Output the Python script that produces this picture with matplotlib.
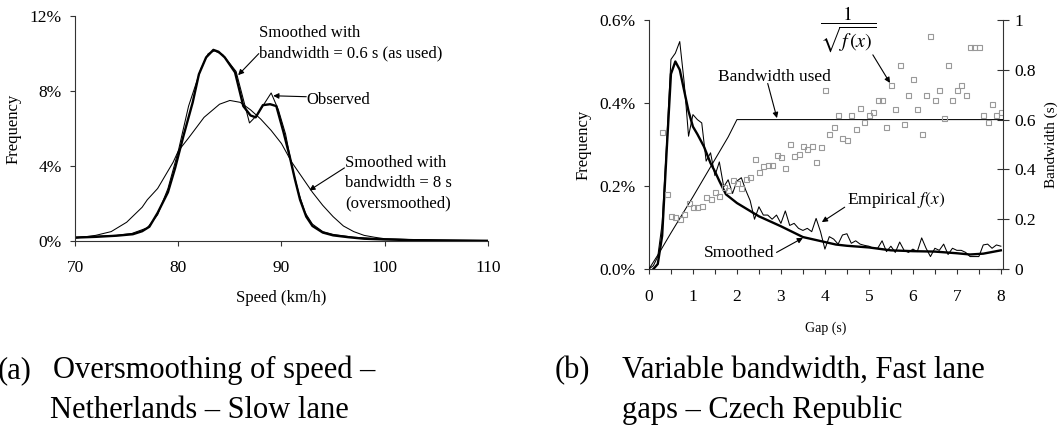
import numpy as np
import matplotlib
matplotlib.use('Agg')
import matplotlib.pyplot as plt
from matplotlib.ticker import MultipleLocator, FuncFormatter

plt.rcParams['font.family'] = ['Liberation Serif', 'DejaVu Serif']
plt.rcParams['mathtext.fontset'] = 'stix'

# ---- (a) speed, Netherlands slow lane (values in %) ----
obs_speed = [70, 72, 74, 75.5, 77, 78, 79, 80, 81, 82.2, 82.9, 83.5, 84.3, 85.6, 86.9,
             87.6, 88.3, 89.0, 89.7, 90.4, 91.0, 91.7, 92.3, 93, 94, 95, 97, 100, 105, 110]
obs_freq = [0.2, 0.25, 0.3, 0.4, 0.7, 1.4, 2.8, 4.8, 7.2, 9.2, 10.0, 10.15, 9.95, 9.05, 6.3,
            6.7, 7.3, 7.9, 7.0, 5.7, 4.0, 2.5, 1.5, 0.9, 0.5, 0.35, 0.2, 0.1, 0.05, 0.02]

sm06_speed = [70, 72, 74, 75.6, 76.5, 77.2, 78, 79, 79.7, 80.5, 81.4, 82, 82.7, 83.4, 83.9,
              84.5, 85.5, 86.3, 87.0, 87.5, 88.2, 88.9, 89.5, 90.2, 90.8, 91.3, 91.8, 92.4,
              93.0, 94, 95, 96.5, 98, 100, 103, 110]
sm06_freq = [0.18, 0.22, 0.28, 0.36, 0.52, 0.76, 1.5, 2.6, 3.9, 5.6, 7.4, 8.9, 9.8, 10.2, 10.1,
             9.8, 9.0, 7.2, 6.7, 6.6, 7.25, 7.3, 7.2, 5.8, 4.5, 3.3, 2.2, 1.3,
             0.8, 0.45, 0.3, 0.2, 0.12, 0.08, 0.04, 0.01]

sm8_speed = [70, 72, 73.5, 75, 76.5, 77, 78, 79.5, 80, 81, 82.5, 84, 85, 86, 87, 88, 89,
             90, 91, 92, 93, 94, 95, 96, 97, 98, 99, 100, 105, 110]
sm8_freq = [0.15, 0.3, 0.5, 1.0, 1.8, 2.2, 2.8, 4.2, 4.8, 5.5, 6.6, 7.3, 7.5, 7.4, 7.0, 6.5, 5.9,
            5.2, 4.2, 3.4, 2.6, 1.9, 1.3, 0.8, 0.5, 0.3, 0.2, 0.12, 0.03, 0.01]

# ---- (b) gaps, Czech Republic fast lane ----
gap_emp = [0.0, 0.1, 0.2, 0.3, 0.4, 0.5, 0.6, 0.7, 0.8, 0.9, 1.0, 1.1, 1.2, 1.3, 1.4, 1.5,
           1.6, 1.7, 1.8, 1.9, 2.0, 2.1, 2.2, 2.3, 2.4, 2.5, 2.6, 2.7, 2.8, 2.9, 3.0, 3.1,
           3.2, 3.3, 3.4, 3.5, 3.6, 3.7, 3.8, 3.9, 4.0, 4.1, 4.2, 4.3, 4.4, 4.5, 4.6, 4.7,
           4.8, 4.9, 5.0, 5.1, 5.2, 5.3, 5.4, 5.5, 5.6, 5.7, 5.8, 5.9, 6.0, 6.1, 6.2, 6.3,
           6.4, 6.5, 6.6, 6.7, 6.8, 6.9, 7.0, 7.1, 7.2, 7.3, 7.4, 7.5, 7.6, 7.7, 7.8, 7.9, 8.0]
freq_emp = [0.0, 0.008, 0.03, 0.11, 0.30, 0.505, 0.52, 0.548, 0.45, 0.32, 0.372, 0.36, 0.352,
            0.26, 0.28, 0.225, 0.258, 0.198, 0.215, 0.182, 0.212, 0.22, 0.19, 0.165, 0.12,
            0.15, 0.13, 0.13, 0.12, 0.13, 0.11, 0.14, 0.105, 0.11, 0.098, 0.093, 0.098, 0.09,
            0.122, 0.09, 0.048, 0.078, 0.072, 0.06, 0.082, 0.085, 0.062, 0.068, 0.06, 0.057,
            0.055, 0.05, 0.05, 0.068, 0.042, 0.055, 0.04, 0.065, 0.045, 0.04, 0.048, 0.042,
            0.075, 0.05, 0.03, 0.05, 0.045, 0.06, 0.035, 0.05, 0.045, 0.045, 0.04, 0.03,
            0.03, 0.03, 0.058, 0.06, 0.05, 0.058, 0.055]

gap_sm = [0.1, 0.2, 0.3, 0.4, 0.5, 0.6, 0.7, 0.8, 0.9, 1.0, 1.1, 1.25, 1.4, 1.5, 1.6, 1.75,
          2.0, 2.25, 2.5, 3.0, 3.5, 4.0, 4.25, 4.5, 5.0, 5.5, 6.0, 6.5, 7.0, 7.3, 7.6, 8.0]
freq_sm = [0.0, 0.012, 0.08, 0.28, 0.47, 0.50, 0.48, 0.43, 0.38, 0.343, 0.325, 0.295, 0.255,
           0.235, 0.212, 0.18, 0.159, 0.143, 0.127, 0.103, 0.077, 0.065, 0.059, 0.056, 0.052,
           0.045, 0.043, 0.042, 0.038, 0.035, 0.037, 0.045]

gap_bw = [0.0, 0.25, 0.5, 1.0, 1.5, 1.8, 2.0, 8.05]
bw_used = [0.0, 0.07, 0.145, 0.29, 0.44, 0.53, 0.6, 0.6]

gap_inv = [0.3, 0.4, 0.5, 0.6, 0.7, 0.8, 0.9, 1.0, 1.1, 1.2, 1.3, 1.4, 1.5, 1.6, 1.7, 1.8,
           1.9, 2.0, 2.1, 2.2, 2.3, 2.4, 2.5, 2.6, 2.7, 2.8, 2.9, 3.0, 3.1, 3.2, 3.3, 3.4,
           3.5, 3.6, 3.7, 3.8, 3.9, 4.0, 4.1, 4.2, 4.3, 4.4, 4.5, 4.6, 4.7, 4.8, 4.9, 5.0,
           5.1, 5.2, 5.3, 5.4, 5.5, 5.6, 5.7, 5.8, 5.9, 6.0, 6.1, 6.2, 6.3, 6.4, 6.5, 6.6,
           6.7, 6.8, 6.9, 7.0, 7.1, 7.2, 7.3, 7.4, 7.5, 7.6, 7.7, 7.8, 7.9, 8.0]
inv_sqrt_f = [0.549, 0.302, 0.214, 0.21, 0.202, 0.221, 0.265, 0.249, 0.251, 0.254, 0.291,
              0.282, 0.311, 0.294, 0.329, 0.316, 0.357, 0.345, 0.324, 0.362, 0.37, 0.44,
              0.389, 0.412, 0.417, 0.416, 0.459, 0.449, 0.404, 0.503, 0.453, 0.461, 0.495,
              0.483, 0.495, 0.429, 0.489, 0.719, 0.543, 0.572, 0.619, 0.525, 0.517, 0.619,
              0.561, 0.646, 0.592, 0.619, 0.63, 0.679, 0.679, 0.572, 0.739, 0.644, 0.821,
              0.583, 0.699, 0.765, 0.644, 0.543, 0.699, 0.937, 0.679, 0.718, 0.606, 0.821,
              0.679, 0.718, 0.738, 0.699, 0.893, 0.893, 0.893, 0.619, 0.592, 0.663, 0.619,
              0.631]

spine_c = '#333333'
arrow = dict(arrowstyle='-|>', lw=0.8, color='k', mutation_scale=8, shrinkA=0, shrinkB=0)

fig = plt.figure(figsize=(10.63, 4.25), dpi=100)

# ---------------- panel (a) ----------------
ax1 = fig.add_axes([0.0706, 0.433, 0.3884, 0.529])
ax1.plot(sm8_speed, sm8_freq, color='k', lw=0.75)
ax1.plot(obs_speed, obs_freq, color='k', lw=0.75)
ax1.plot(sm06_speed, sm06_freq, color='k', lw=1.7)
ax1.set_xlim(70, 110)
ax1.set_ylim(0, 12)
ax1.set_xticks([70, 80, 90, 100, 110])
ax1.set_yticks([0, 4, 8, 12])
ax1.yaxis.set_major_formatter(FuncFormatter(lambda v, p: '%d%%' % v))
ax1.spines['top'].set_visible(False)
ax1.spines['right'].set_visible(False)
for s in ['left', 'bottom']:
    ax1.spines[s].set_color(spine_c)
    ax1.spines[s].set_linewidth(0.8)
ax1.tick_params(direction='out', length=3.5, width=0.8, color=spine_c, labelsize=12.5, pad=6)
ax1.tick_params(axis='x', pad=10)
ax1.set_xlabel('Speed (km/h)', fontsize=12, labelpad=10)
ax1.set_ylabel('Frequency', fontsize=12, labelpad=6)

ax1.text(87.8, 10.55, 'Smoothed with\nbandwidth = 0.6 s (as used)', fontsize=12,
         ha='left', va='center', linespacing=1.35)
ax1.annotate('', xy=(85.8, 8.85), xytext=(87.8, 10.0), arrowprops=arrow)
ax1.text(92.4, 7.5, 'Observed', fontsize=12, ha='left', va='center')
ax1.annotate('', xy=(89.2, 7.75), xytext=(92.4, 7.7), arrowprops=arrow)
ax1.text(96.2, 3.1, 'Smoothed with\nbandwidth = 8 s\n(oversmoothed)', fontsize=12,
         ha='left', va='center', linespacing=1.35)
ax1.annotate('', xy=(92.7, 2.7), xytext=(96.1, 3.9), arrowprops=arrow)

# ---------------- panel (b) ----------------
ax2 = fig.add_axes([0.6105, 0.367, 0.3331, 0.586])
ax3 = ax2.twinx()
ax2.plot(gap_emp, freq_emp, color='k', lw=0.75, zorder=3)
ax2.plot(gap_sm, freq_sm, color='k', lw=1.7, zorder=4)
ax3.plot(gap_bw, bw_used, color='k', lw=0.75)
ax3.plot(gap_inv, inv_sqrt_f, ls='none', marker='s', ms=3.6, mfc='none',
         mec='#999999', mew=0.8)
ax2.set_xlim(0, 8.05)
ax2.set_ylim(0, 0.6)
ax3.set_ylim(0, 1)
ax2.set_yticks([0, 0.2, 0.4, 0.6])
ax2.yaxis.set_major_formatter(FuncFormatter(lambda v, p: '%.1f%%' % v))
ax3.set_yticks([0, 0.2, 0.4, 0.6, 0.8, 1.0])
ax3.yaxis.set_major_formatter(FuncFormatter(lambda v, p: '%g' % v))
ax2.xaxis.set_major_locator(MultipleLocator(1))
ax2.xaxis.set_minor_locator(MultipleLocator(0.5))
for a in (ax2, ax3):
    a.spines['top'].set_visible(False)
    for s in ['left', 'bottom', 'right']:
        a.spines[s].set_color(spine_c)
        a.spines[s].set_linewidth(0.8)
ax2.spines['right'].set_visible(False)
ax3.spines['left'].set_visible(False)
ax3.spines['bottom'].set_visible(False)
ax2.tick_params(axis='both', which='both', direction='out', length=3.5, width=0.8,
                color=spine_c, labelsize=12.5, pad=6)
ax2.tick_params(axis='x', which='both', pad=11)
ax3.tick_params(axis='y', direction='inout', length=8, width=0.8, color=spine_c,
                labelsize=12.5, pad=4)
ax2.set_xlabel('Gap (s)', fontsize=10, labelpad=12)
ax2.set_ylabel('Frequency', fontsize=12, labelpad=6)
ax3.set_ylabel('Bandwidth (s)', fontsize=11, labelpad=6)

ax3.text(4.52, 0.965, r'$\dfrac{1}{\sqrt{f\,(x)}}$', fontsize=14.5, ha='center', va='center')
ax3.annotate('', xy=(5.48, 0.747), xytext=(5.09, 0.86), arrowprops=arrow)
ax3.text(2.86, 0.771, 'Bandwidth used', fontsize=12.5, ha='center', va='center')
ax3.annotate('', xy=(2.91, 0.606), xytext=(2.70, 0.745), arrowprops=arrow)
ax2.text(4.5, 0.166, r'Empirical $\mathit{f(x)}$', fontsize=12.5, ha='left', va='center')
ax2.annotate('', xy=(3.93, 0.113), xytext=(4.45, 0.149), arrowprops=arrow)
ax2.text(2.85, 0.038, 'Smoothed', fontsize=12.5, ha='right', va='center')
ax2.annotate('', xy=(3.5, 0.075), xytext=(2.9, 0.04), arrowprops=arrow)

# ---------------- captions ----------------
cap = 22
fig.text(-0.002, 1 - 378 / 425, '(a)', fontsize=cap, va='baseline', ha='left')
fig.text(53 / 1063, 1 - 378 / 425, 'Oversmoothing of speed \u2013', fontsize=cap, va='baseline')
fig.text(50 / 1063, 1 - 418 / 425, 'Netherlands \u2013 Slow lane', fontsize=cap, va='baseline')
fig.text(555 / 1063, 1 - 378 / 425, '(b)', fontsize=cap, va='baseline')
fig.text(622 / 1063, 1 - 378 / 425, 'Variable bandwidth, Fast lane', fontsize=cap, va='baseline')
fig.text(622 / 1063, 1 - 418 / 425, 'gaps \u2013 Czech Republic', fontsize=cap, va='baseline')

fig.savefig('out.png', dpi=100)
